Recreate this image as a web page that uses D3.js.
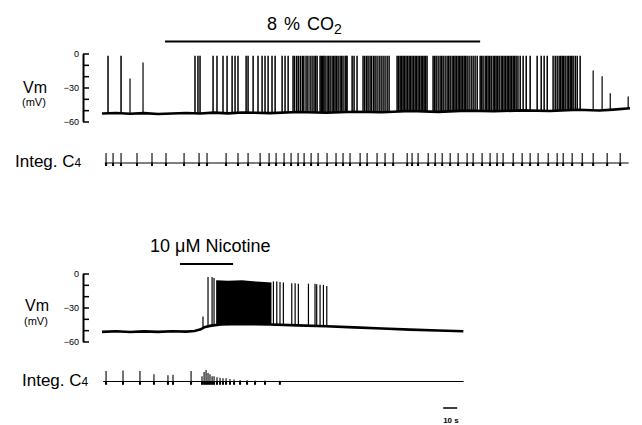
<!DOCTYPE html>
<html>
<head>
<meta charset="utf-8">
<script src="https://cdn.jsdelivr.net/npm/d3@7"></script>
<style>
body { margin: 0; background: #fff; }
svg text { font-family: "Liberation Sans", Arial, sans-serif; fill: #000; }
</style>
</head>
<body>
<script>
// two intracellular recordings, Vm (mV) and integrated C4 activity
// times in seconds, potentials in mV, integ. amplitude in arbitrary units

var width = 642;
var height = 425;

var vmTicks = [0, -10, -20, -30, -40, -50, -60];
var vmLabels = [0, -30, -60];

// ---- top record: 8 % CO2 ----
var co2On = [45, 270];
var topBaseline = [[0,-53],[10,-52.5],[20,-53.2],[30,-52.6],[40,-53.4],[50,-53],[60,-52.5],[70,-53],
  [80,-52.2],[90,-52.8],[100,-52],[120,-52.6],[140,-51.6],[160,-52.3],[180,-51.4],[200,-51.9],
  [220,-50.8],[240,-51.5],[260,-50.4],[280,-51],[300,-50.2],[320,-50.7],[340,-49.6],[355,-50.3],
  [365,-49.5],[377,-48.3]];
var spikePeak = -2;
var topSpikes = [4.3, 13.6,
  66.4, 68.5, 70, 79.3, 82.1, 86.4, 89.3, 92.9, 95, 97.1,
  102.9, 104.3, 107.9, 111.4, 114.3, 116.4, 118.6, 121.4, 123.6, 128.6, 130.7, 132.9,
  136.4, 137.5, 139, 140.2, 141.6, 143, 144.1, 145.7, 147, 148.6, 150, 151.4, 152.5, 153.6,
  155.7, 156.6, 157.5, 158.4, 159.3, 160.7, 161.8, 162.9, 164.3, 165.4, 166.4, 167.5, 168.6,
  170, 171, 172.1, 173.6, 174.3, 175,
  178.6, 180, 182.1,
  186.4, 187.6, 188.9, 190, 191.4, 192.5, 193.9, 195, 196.4, 197.9, 199.3, 200.7, 202.1, 203.6, 205,
  210.7, 211.8, 212.9, 214, 215, 216, 217.1, 218.2, 219.3, 220.3, 221.4, 222.5, 223.6, 224.6,
  225.7, 226.8, 227.9, 229, 230, 231, 232.1,
  236.4, 237.5, 238.6, 240, 241.4, 242.5, 243.6, 245, 246.4, 247.5, 248.6, 250,
  251.1, 252.1, 253.2, 254.3, 255.4, 256.4, 257.5, 258.6, 259.6, 260.7, 262.1, 263.6, 265, 266.4, 267.9,
  270, 271, 272.1, 273.6, 274.6, 275.7, 276.8, 277.9, 279.3, 280.4, 281.4, 282.5, 283.6, 285,
  286, 287.1, 288.2, 289.3, 290.4, 291.4, 292.5, 293.6, 294.6, 295.7, 297, 298.6,
  300.7, 302.9, 305.7,
  310.7, 313.6, 315.7, 317.9,
  322.1, 323.6, 325, 326.4, 327.5, 328.6, 329.6, 330.7, 332.1, 333.2, 334.3, 335.4, 336.4,
  337.9, 339.3, 341.4];
var topSmallSpikes = [[20,-22],[29.3,-8],[350.7,-15],[357.1,-20],[362.9,-35],[375.7,-38]];
var topInteg = [2, 376];
var topBursts = [2.9, 7.9, 13.6, 25, 35.7, 45.7, 58.6, 69.3, 75, 88.6, 97.1, 104.3, 112.9, 119.3,
  124.3, 130, 135, 140, 144.3, 149.3, 154.3, 160.7, 167.1, 172.1, 177.1, 184.3, 189.3, 196.4,
  202.1, 207.9, 217.9, 221.4, 225.7, 232.9, 237.9, 242.9, 248.6, 254.3, 260.7, 265, 271.4, 277.1,
  282.1, 286.4, 293.6, 300, 305.7, 311.4, 318.6, 325, 329.3, 335.7, 342.9, 350.7, 360.7, 370];

// ---- bottom record: 10 uM nicotine ----
var nicotineOn = [55.7, 93.6];
var botBaseline = [[0,-51.5],[10,-51],[20,-51.6],[30,-51.1],[40,-51.5],[50,-51],[60,-51.3],
  [66,-50.8],[70,-49.5],[73,-47.5],[78,-46],[85,-45],[100,-44.5],[120,-45],[140,-45.8],
  [160,-46.5],[180,-47.5],[200,-48.5],[220,-49.5],[240,-50.3],[258,-51]];
var botSpikes = [[72.1,-38],[75.7,-3],[78.6,-3],[80,-4],[122.4,-7],[124.8,-7],[127.1,-7.5],
  [129.5,-8],[135.5,-8.5],[137.9,-8.5],[140.2,-9],[147.4,-9],[152.1,-9],[153.3,-9.5],
  [155.7,-10],[158.1,-10],[160.5,-11]];
var botBand = [[81.5,-6],[90,-6.5],[100,-6],[110,-7],[116,-7.5],[121,-8]];
var botInteg = [1, 258];
var botBursts = [[2.9,1],[15,1.05],[27.1,1],[37.1,0.7],[47.1,0.6],[50.7,0.65],[63.6,1]];
var botBurstTail = [[71.4,0.5],[72.9,0.9],[74.3,1.1],[75.7,0.8],[77.1,0.7],[78.6,0.5],[80,0.5],
  [82.1,0.4],[84.3,0.35],[86.4,0.3],[88.6,0.3],[91.4,0.25],[94.3,0.2],[98.6,0.15],
  [103.6,0.12],[109.3,0.1],[116.4,0.1],[127,0.08]];
var scaleBar = [243.6, 253.6];

var svg = d3.select("body").append("svg")
    .attr("width", width)
    .attr("height", height);
svg.append("rect").attr("width", width).attr("height", height).attr("fill", "#fff");

var x = d3.scaleLinear().domain([0, 377]).range([102, 630]);
var yTop = d3.scaleLinear().domain([-60, 0]).range([121.5, 53.5]);
var yBot = d3.scaleLinear().domain([-60, 0]).range([341.5, 273.5]);
var iTop = d3.scaleLinear().domain([0, 1]).range([163, 153]);
var iBot = d3.scaleLinear().domain([0, 1]).range([381.5, 371]);

var interp = function(pts) {
  return d3.scaleLinear().domain(pts.map(function(d) { return d[0]; }))
    .range(pts.map(function(d) { return d[1]; })).clamp(true);
};

var drawVmAxis = function(y) {
  svg.append("g").attr("transform", "translate(83,0)")
    .call(d3.axisRight(y).tickValues(vmTicks).tickSize(6).tickSizeOuter(0).tickFormat(""))
    .call(function(g) { g.select(".domain").attr("stroke-width", 2); })
    .call(function(g) { g.selectAll(".tick line").attr("stroke-width", 1.5); });
  svg.append("g").attr("transform", "translate(79,0)")
    .call(d3.axisLeft(y).tickValues(vmLabels).tickSize(0).tickPadding(0))
    .call(function(g) { g.select(".domain").remove(); })
    .selectAll("text")
    .attr("font-size", 9)
    .attr("font-family", "Liberation Sans, Arial, sans-serif");
};

var drawVmLabel = function(x0, yv, ymv) {
  svg.append("text").attr("x", x0).attr("y", yv).attr("font-size", 16).text("Vm");
  svg.append("text").attr("x", x0 - 1).attr("y", ymv).attr("font-size", 11).text("(mV)");
};

var drawIntegLabel = function(x0, y0) {
  var t = svg.append("text").attr("x", x0).attr("y", y0).attr("font-size", 17);
  t.append("tspan").text("Integ. C");
  t.append("tspan").attr("font-size", 12).text("4");
};

var drawTrace = function(base, y) {
  svg.append("path")
    .datum(base)
    .attr("fill", "none")
    .attr("stroke", "#000")
    .attr("stroke-width", 2.6)
    .attr("stroke-linejoin", "round")
    .attr("d", d3.line().x(function(d) { return x(d[0]); }).y(function(d) { return y(d[1]); }));
};

var drawSpikes = function(spikes, base, y, cls, w) {
  var b = interp(base);
  svg.selectAll("line." + cls)
    .data(spikes)
    .enter()
    .append("line")
    .attr("class", cls)
    .attr("x1", function(d) { return x(d[0]); })
    .attr("x2", function(d) { return x(d[0]); })
    .attr("y1", function(d) { return y(b(d[0])); })
    .attr("y2", function(d) { return y(d[1]); })
    .attr("stroke", "#000")
    .attr("stroke-width", w);
};

var drawInteg = function(span, bursts, iy, cls) {
  svg.append("line")
    .attr("x1", x(span[0])).attr("x2", x(span[1]))
    .attr("y1", iy(0)).attr("y2", iy(0))
    .attr("stroke", "#000").attr("stroke-width", 1.2);
  svg.selectAll("line." + cls)
    .data(bursts)
    .enter()
    .append("line")
    .attr("class", cls)
    .attr("x1", function(d) { return x(d[0]); })
    .attr("x2", function(d) { return x(d[0]); })
    .attr("y1", iy(-0.3))
    .attr("y2", function(d) { return iy(d[1]); })
    .attr("stroke", "#000")
    .attr("stroke-width", 1.1);
  svg.selectAll("rect." + cls)
    .data(bursts)
    .enter()
    .append("rect")
    .attr("class", cls)
    .attr("x", function(d) { return x(d[0]) - 1; })
    .attr("y", iy(0))
    .attr("width", 2)
    .attr("height", iy(-0.3) - iy(0))
    .attr("fill", "#000");
};

var drawBar = function(span, y0, w) {
  svg.append("line")
    .attr("x1", x(span[0])).attr("x2", x(span[1]))
    .attr("y1", y0).attr("y2", y0)
    .attr("stroke", "#000").attr("stroke-width", w);
};

// ---- top panel ----
drawBar(co2On, 41.5, 2.2);
var co2 = svg.append("text").attr("x", 267).attr("y", 29.5).attr("font-size", 18)
  .attr("word-spacing", 2);
co2.append("tspan").text("8 % CO");
co2.append("tspan").attr("font-size", 14).attr("dy", 4).text("2");

drawVmAxis(yTop);
drawVmLabel(23, 93, 106);
drawSpikes(topSpikes.map(function(t) { return [t, spikePeak]; }), topBaseline, yTop, "sp-top", 1.5);
drawSpikes(topSmallSpikes, topBaseline, yTop, "sp-top-small", 1.2);
drawTrace(topBaseline, yTop);

drawIntegLabel(15, 167);
drawInteg(topInteg, topBursts.map(function(t) { return [t, 1]; }), iTop, "b-top");

// ---- bottom panel ----
svg.append("text").attr("x", 150).attr("y", 252).attr("font-size", 18).text("10 \u03bcM Nicotine");
drawBar(nicotineOn, 264, 2.2);

drawVmAxis(yBot);
drawVmLabel(25, 311, 325);
var bb = interp(botBaseline);
svg.append("path")
  .datum(botBand)
  .attr("fill", "#000")
  .attr("d", d3.area()
    .x(function(d) { return x(d[0]); })
    .y0(function(d) { return yBot(bb(d[0])); })
    .y1(function(d) { return yBot(d[1]); }));
drawSpikes(botSpikes, botBaseline, yBot, "sp-bot", 1.2);
drawTrace(botBaseline, yBot);

drawIntegLabel(22, 385.5);
drawInteg(botInteg, botBursts, iBot, "b-bot");
drawInteg(botInteg, botBurstTail, iBot, "b-tail");

// scale bar
drawBar(scaleBar, 408, 1.5);
svg.append("text").attr("x", x(scaleBar[0])).attr("y", 422.5)
  .attr("font-size", 8).attr("font-weight", "bold").text("10 s");
</script>
</body>
</html>
